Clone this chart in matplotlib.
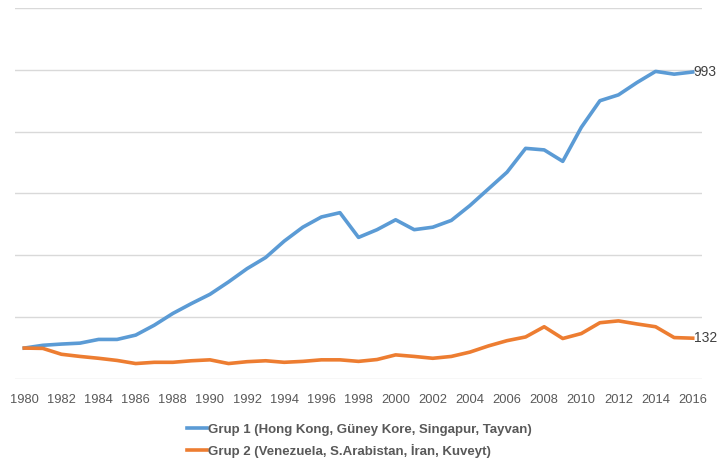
import matplotlib

matplotlib.use("Agg")
import matplotlib.pyplot as plt
from matplotlib.lines import Line2D

plt.rcParams["font.family"] = ["Liberation Sans", "DejaVu Sans"]

years = list(range(1980, 2017))
grup1 = [100, 109, 113, 116, 128, 128, 142, 174, 212, 244, 274, 314, 357, 393, 446,
         491, 524, 538, 458, 483, 515, 483, 491, 513, 561, 615, 669, 746, 741, 704,
         814, 900, 919, 959, 995, 986, 993]
grup2 = [100, 99, 80, 73, 67, 60, 50, 54, 54, 59, 62, 50, 56, 59, 54, 57, 62, 62, 57,
         63, 78, 73, 67, 73, 87, 107, 124, 136, 169, 131, 147, 182, 188, 178, 169,
         134, 132]
labels = ["Grup 1 (Hong Kong, Güney Kore, Singapur, Tayvan)",
          "Grup 2 (Venezuela, S.Arabistan, İran, Kuveyt)"]
colors = ["#5B9BD5", "#ED7D31"]

fig = plt.figure(figsize=(7.19, 4.68), dpi=100)
ax = fig.add_axes([15 / 719, 1 - 379 / 468, 687 / 719, 371 / 468])

for vals, col in zip([grup1, grup2], colors):
    ax.plot(years, vals, color=col, lw=2.6, solid_joinstyle="round", zorder=3)
    ax.text(years[-1] + 0.05, vals[-1], f"{vals[-1]}", ha="left", va="center",
            fontsize=10, color="#404040")

ax.set_xlim(1979.5, 2016.5)
ax.set_ylim(0, 1200)
ax.set_yticks(range(0, 1201, 200))
ax.set_yticklabels([])
ax.set_xticks(years[::2])
ax.tick_params(axis="x", length=0, pad=10.5, labelsize=9.3, labelcolor="#595959")
ax.tick_params(axis="y", length=0)
ax.grid(axis="y", color="#D9D9D9", lw=1)
ax.set_axisbelow(True)
for s in ax.spines.values():
    s.set_visible(False)

handles = [Line2D([0], [0], color=c, lw=2.6) for c in colors]
leg = fig.legend(handles, labels, loc="upper center", bbox_to_anchor=(0.5, 1 - 412 / 468),
                 frameon=False, handlelength=1.5, handletextpad=0.1, labelspacing=0.6,
                 prop={"size": 9.5, "weight": "bold"})
for t in leg.get_texts():
    t.set_color("#595959")

fig.savefig("out.png", dpi=100)
